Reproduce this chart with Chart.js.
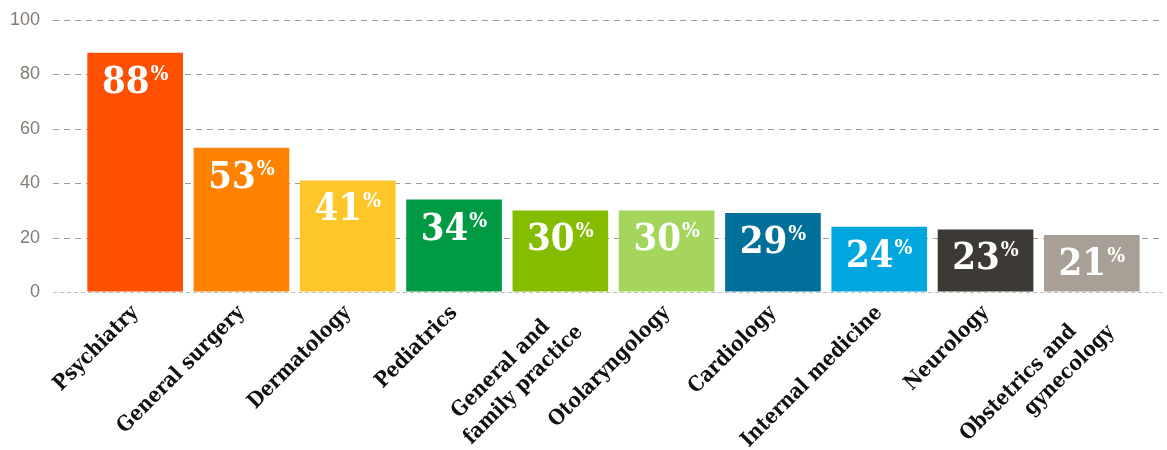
<!DOCTYPE html>
<html>
<head>
<meta charset="utf-8">
<script src="https://cdn.jsdelivr.net/npm/chart.js@4"></script>
<style>
    html, body { margin: 0; padding: 0; background: #fff; }
    #wrap { width: 1167px; height: 450px; position: relative; }
</style>
</head>
<body>
<div id="wrap"><canvas id="specialtyChart"></canvas></div>
<script>
// Share of respondents by specialty (%)
const specialties = [
    'Psychiatry', 'General surgery', 'Dermatology', 'Pediatrics',
    ['General and\u00a0\u00a0\u00a0', 'family practice'], 'Otolaryngology', 'Cardiology',
    'Internal medicine', 'Neurology', ['Obstetrics and\u00a0\u00a0\u00a0\u00a0', 'gynecology']
];
const percentages = [88, 53, 41, 34, 30, 30, 29, 24, 23, 21];
const barColors = [
    '#fe5000', '#ff8200', '#ffc629', '#009a44', '#84bd00',
    '#a4d65e', '#00709a', '#00a6de', '#3d3935', '#a89f97'
];
const yTicks = [0, 20, 40, 60, 80, 100];

const serif = "'DejaVu Serif Condensed', 'DejaVu Serif', serif";

// dashed gridlines run a bit wider than the bars
const dashedGrid = {
    id: 'dashedGrid',
    beforeDatasetsDraw(chart) {
        const ctx = chart.ctx;
        const y = chart.scales.y;
        ctx.save();
        ctx.lineWidth = 1;
        yTicks.forEach(v => {
            const py = Math.round(y.getPixelForValue(v)) + 0.5;
            ctx.strokeStyle = v === 0 ? '#c4bfbb' : '#a39b95';
            ctx.setLineDash(v === 0 ? [4, 3] : [6, 5]);
            ctx.beginPath();
            ctx.moveTo(53, py);
            ctx.lineTo(1162, py);
            ctx.stroke();
        });
        ctx.restore();
    }
};

// white value labels with a raised percent sign
const valueLabels = {
    id: 'valueLabels',
    afterDatasetsDraw(chart) {
        const ctx = chart.ctx;
        const meta = chart.getDatasetMeta(0);
        ctx.save();
        ctx.fillStyle = '#ffffff';
        ctx.textBaseline = 'alphabetic';
        ctx.textAlign = 'left';
        meta.data.forEach((bar, i) => {
            const num = String(percentages[i]);
            ctx.font = `bold 38px ${serif}`;
            const wNum = ctx.measureText(num).width;
            ctx.font = `bold 21px ${serif}`;
            const wPct = ctx.measureText('%').width;
            const gap = 1;
            const left = bar.x - (wNum + gap + wPct) / 2;
            ctx.font = `bold 38px ${serif}`;
            ctx.fillText(num, left, bar.y + 40);
            ctx.font = `bold 21px ${serif}`;
            ctx.fillText('%', left + wNum + gap, bar.y + 27);
        });
        ctx.restore();
    }
};

new Chart(document.getElementById('specialtyChart'), {
    type: 'bar',
    data: {
        labels: specialties,
        datasets: [{
            data: percentages,
            backgroundColor: barColors,
            barPercentage: 0.9,
            categoryPercentage: 1.0,
            borderWidth: 0
        }]
    },
    options: {
        responsive: true,
        maintainAspectRatio: false,
        animation: false,
        layout: { padding: { top: 20, right: 22, left: 0, bottom: 0 } },
        plugins: {
            legend: { display: false },
            tooltip: { enabled: false }
        },
        scales: {
            x: {
                grid: { display: false },
                border: { display: false },
                ticks: {
                    color: '#111',
                    font: { family: serif, size: 21, weight: 'bold', lineHeight: 1.3 },
                    minRotation: 45,
                    maxRotation: 45,
                    autoSkip: false,
                    padding: 0
                },
                afterFit(scale) { scale.height = 158; }
            },
            y: {
                min: 0,
                max: 100,
                grid: {
                    display: true,
                    drawOnChartArea: false,
                    drawTicks: true,
                    tickLength: 36,
                    color: 'rgba(0,0,0,0)'
                },
                border: { display: false },
                ticks: {
                    stepSize: 20,
                    color: '#857b74',
                    padding: 6,
                    font: { family: "'Liberation Sans', Arial, sans-serif", size: 18 }
                },
                afterFit(scale) { scale.width = 82; }
            }
        }
    },
    plugins: [dashedGrid, valueLabels]
});
</script>
</body>
</html>
